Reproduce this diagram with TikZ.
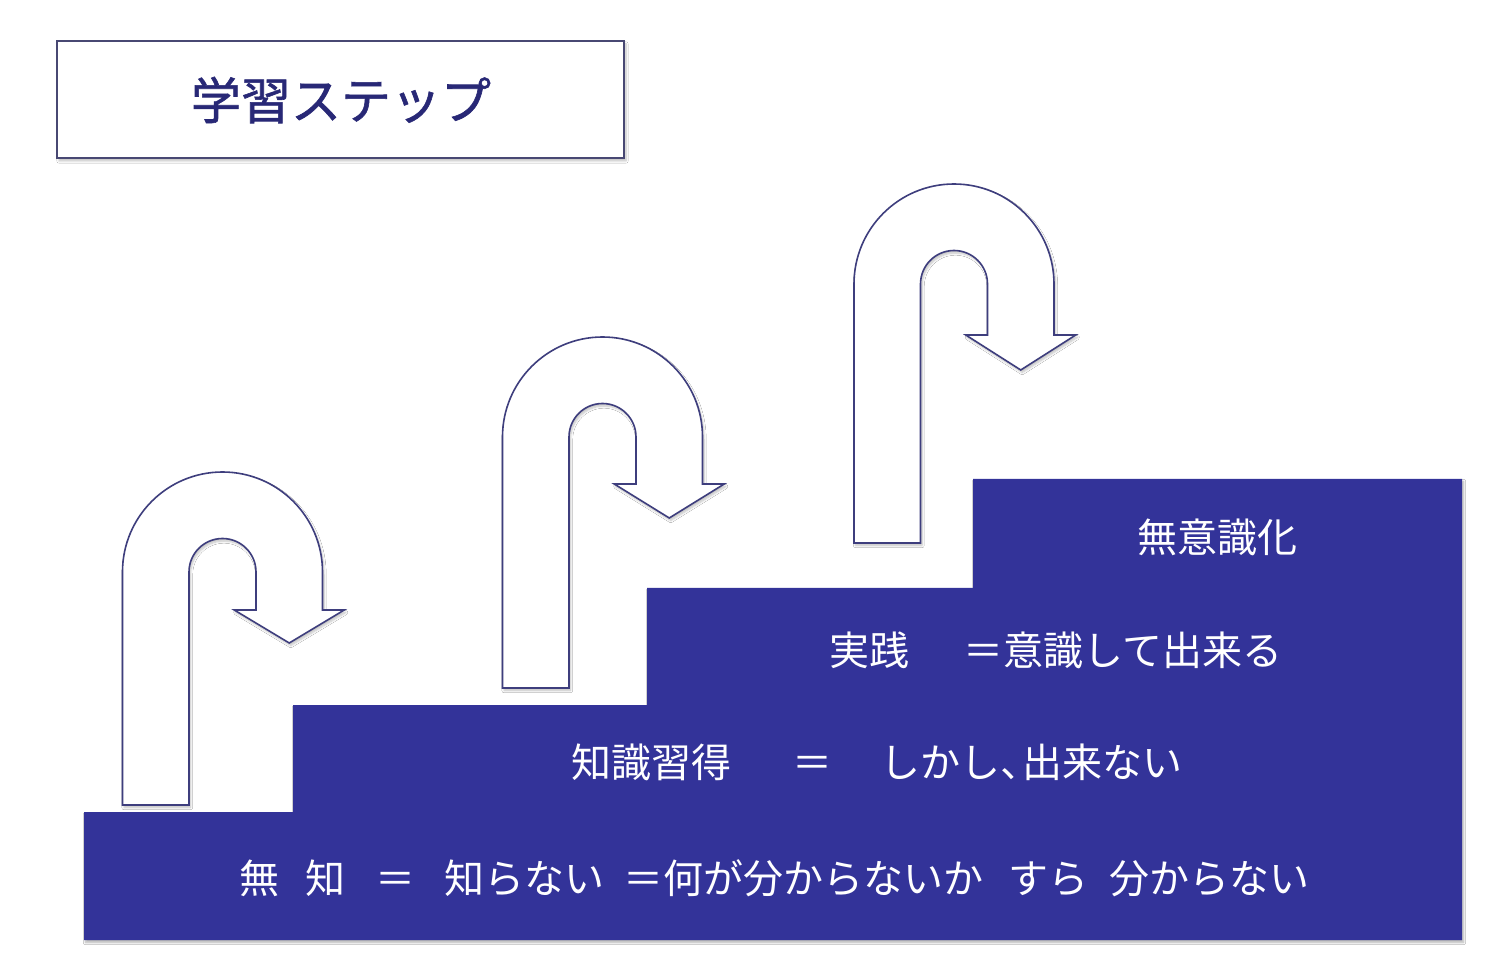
\documentclass[tikz,border=0pt]{standalone}
\usepackage{fontspec}
\setmainfont{Noto Sans CJK JP}
\newfontfamily\titlecjk{Noto Sans CJK JP}[FakeBold=1.2]
\usetikzlibrary{shadows.blur}
\definecolor{stepblue}{RGB}{51,51,153}
\definecolor{arrowline}{RGB}{62,62,125}
\definecolor{titleline}{RGB}{72,72,115}
\definecolor{titletext}{RGB}{40,40,118}
\tikzset{
  stepfill/.style={fill=stepblue, draw=none, blur shadow={shadow xshift=1.5pt, shadow yshift=-2.5pt, shadow blur steps=6, shadow opacity=30}},
  uarrow/.style={draw=arrowline, line width=1.6pt, fill=white, line join=miter, blur shadow={shadow xshift=1.5pt, shadow yshift=-2.5pt, shadow blur steps=6, shadow opacity=25}},
  steptext/.style={text=white, font=\fontsize{40}{42}\selectfont, inner sep=0pt},
  titlebox/.style={draw=titleline, line width=1.9pt, fill=white, inner sep=0pt, blur shadow={shadow xshift=2pt, shadow yshift=-3pt, shadow blur steps=6, shadow opacity=25}},
  titlefont/.style={font=\titlecjk\fontsize{50}{52}\selectfont, inner sep=0pt},
}
\newcommand\uturnarrow[5]{% cx, cy, bottom, headY, tipY
  \path[uarrow] ({#1-100},#3) -- ({#1-100},#2) arc[start angle=180, end angle=0, radius=100]
    -- ({#1+100},#4) -- ({#1+121.75},#4) -- ({#1+66.75},#5) -- ({#1+11.75},#4)
    -- ({#1+33.5},#4) -- ({#1+33.5},#2) arc[start angle=0, end angle=180, radius=33.5]
    -- ({#1-33.5},#3) -- cycle;
}
\begin{document}
\begin{tikzpicture}[x=1pt, y=1pt]
\useasboundingbox[fill=white] (0,0) rectangle (1488,954);
% title
\node[titlebox, minimum width=567pt, minimum height=117pt] (titlebox) at (340.5,854.5) {};
\node[titlefont, text=titletext] (title) at (341,854) {学習ステップ};
% staircase
\path[stepfill] (84,14) -- (84,142) -- (293,142) -- (293,249) -- (647,249) -- (647,366)
  -- (973,366) -- (973,475) -- (1462,475) -- (1462,14) -- cycle;
% u-turn arrows
\uturnarrow{222.5}{382}{149}{344}{311}
\uturnarrow{602.5}{517}{266}{470}{436}
\uturnarrow{954}{670}{411}{619}{584}
% step texts
\node[steptext] (t1) at (1217,417) {無意識化};
\node[steptext, anchor=west] (t2) at (829,304) {実践\hspace{54pt}＝意識して出来る};
\node[steptext, anchor=west] (t3) at (571,192) {知識習得\hspace{61pt}＝\hspace{48pt}しかし、\hspace{-18pt}出来ない};
\node[steptext, anchor=west] (t4) at (239,76) {無\hspace{26pt}知\hspace{30pt}＝\hspace{29pt}知らない\hspace{19pt}＝何が分からないか\hspace{25pt}すら\hspace{21pt}分からない};
\end{tikzpicture}
\end{document}
